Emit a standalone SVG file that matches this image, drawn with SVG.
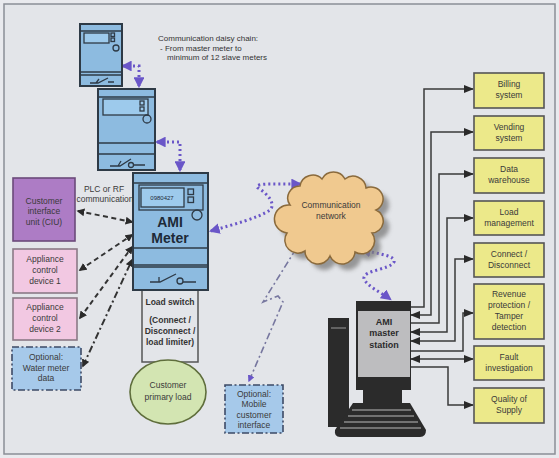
<svg xmlns="http://www.w3.org/2000/svg" width="559" height="458" viewBox="0 0 559 458">
<style>
  text { font-family: "Liberation Sans", Arial, sans-serif; text-anchor: middle; }
  .lbl { font-size: 8.5px; fill: #3a3a3a; }
  .note { font-size: 8px; fill: #333; text-anchor: start; }
  .meter { fill: #8dbbe0; stroke: #2e3a46; stroke-width: 2; }
  .mline { stroke: #2e3a46; stroke-width: 1.3; fill: none; }
  .disp { fill: #9dcaec; stroke: #2e3a46; stroke-width: 1.3; }
  .yel { fill: #ece98a; stroke: #555; stroke-width: 1.6; }
  .opt { fill: #a6c9ea; stroke: #3d4a66; stroke-width: 1.6; stroke-dasharray: 7 2.5 2 2.5; }
  .dots { fill: none; stroke: #6a56c8; stroke-width: 3; stroke-dasharray: 2 3; }
  .dash { fill: none; stroke: #333; stroke-width: 2; stroke-dasharray: 5 3.5; }
  .dashdot { fill: none; stroke: #333; stroke-width: 2; stroke-dasharray: 7 3 2 3; }
  .mobile { fill: none; stroke: #77779f; stroke-width: 1.6; stroke-dasharray: 7 3 2 3; }
  .wire { fill: none; stroke: #3a3a3a; stroke-width: 1.5; }
</style>
<defs>
  <marker id="pa" viewBox="0 0 10 10" refX="8" refY="5" markerWidth="3.6" markerHeight="3.6" orient="auto-start-reverse">
    <path d="M0,0 L10,5 L0,10 Z" fill="#6a56c8"/>
  </marker>
  <marker id="ka" viewBox="0 0 10 10" refX="8" refY="5" markerWidth="4" markerHeight="4" orient="auto-start-reverse">
    <path d="M0,0 L10,5 L0,10 Z" fill="#2a2a2a"/>
  </marker>
  <marker id="ma" viewBox="0 0 10 10" refX="8" refY="5" markerWidth="4.5" markerHeight="4.5" orient="auto">
    <path d="M0,0 L10,5 L0,10 Z" fill="#6a56c8"/>
  </marker>
  <marker id="wa" viewBox="0 0 10 10" refX="9" refY="5" markerWidth="7" markerHeight="7" orient="auto-start-reverse">
    <path d="M0,1 L10,5 L0,9 Z" fill="#2a2a2a"/>
  </marker>
  <filter id="soft" x="-20%" y="-20%" width="140%" height="140%">
    <feGaussianBlur stdDeviation="2"/>
  </filter>
  <path id="cloud" d="M290,205 A12,12 0 0 1 300,186 A13,13 0 0 1 322,179 A13,13 0 0 1 345,179 A13,13 0 0 1 366,188 A12,12 0 0 1 376,210 A12,12 0 0 1 372,233 A13,13 0 0 1 355,252 A13,13 0 0 1 330,256 A13,13 0 0 1 305,251 A13,13 0 0 1 287,233 A14,14 0 0 1 290,205 Z"/>
</defs>

<!-- page -->
<rect x="0" y="0" width="559" height="458" fill="#e9eaee"/>
<rect x="4" y="4" width="551" height="450" fill="#e3e5e9" stroke="#8a8e96" stroke-width="1.5"/>

<!-- connectors -->
<g id="connectors">
  <!-- meter daisy chain -->
  <path class="dots" d="M123,66 H139 V86" marker-start="url(#pa)" marker-end="url(#pa)"/>
  <path class="dots" d="M157,142 H180 V170" marker-start="url(#pa)" marker-end="url(#pa)"/>
  <!-- AMI meter to network -->
  <path class="dots" d="M211,231 C235,224 258,218 270,210 C276,204 268,194 258,188 C254,185 262,184 270,184 H300" marker-start="url(#pa)" marker-end="url(#pa)"/>
  <!-- network to master station -->
  <path class="dots" d="M362,250 C380,254 396,256 394,262 C390,270 362,270 364,279 C368,287 382,293 390,299" marker-start="url(#pa)" marker-end="url(#pa)"/>
  <!-- network to mobile interface -->
  <path class="mobile" d="M296,249 L263,302 L278,296 L283,302 L249,381" marker-end="url(#ma)"/>
  <!-- AMI meter to local devices -->
  <path class="dash" d="M78,211 L132,222" marker-start="url(#ka)" marker-end="url(#ka)"/>
  <path class="dash" d="M80,270 L132,235" marker-start="url(#ka)" marker-end="url(#ka)"/>
  <path class="dash" d="M80,318 L132,247" marker-start="url(#ka)" marker-end="url(#ka)"/>
  <path class="dashdot" d="M83,366 L132,260" marker-start="url(#ka)" marker-end="url(#ka)"/>
  <!-- master station to back-office systems -->
  <path class="wire" d="M411,307 H424 V89 H473" marker-end="url(#wa)"/>
  <path class="wire" d="M411,315 H431 V132 H473" marker-start="url(#wa)" marker-end="url(#wa)"/>
  <path class="wire" d="M411,323 H439 V174 H473" marker-end="url(#wa)"/>
  <path class="wire" d="M411,332 H447 V218 H473" marker-start="url(#wa)" marker-end="url(#wa)"/>
  <path class="wire" d="M411,341 H455 V259 H473" marker-start="url(#wa)" marker-end="url(#wa)"/>
  <path class="wire" d="M411,351 H463 V313 H473" marker-end="url(#wa)"/>
  <path class="wire" d="M411,359 H473" marker-start="url(#wa)" marker-end="url(#wa)"/>
  <path class="wire" d="M411,367 H448 V405 H473" marker-end="url(#wa)"/>
</g>

<!-- slave meter (top) -->
<g id="slave-meter-1">
  <rect class="meter" x="80" y="24" width="42" height="62"/>
  <line class="mline" x1="80" y1="31" x2="122" y2="31"/>
  <rect class="disp" x="84" y="33" width="25" height="10"/>
  <rect class="mline" x="111" y="33" width="3.5" height="3.5"/>
  <rect class="mline" x="111" y="38" width="3.5" height="3.5"/>
  <circle class="mline" cx="116" cy="48" r="3"/>
  <line class="mline" x1="80" y1="72" x2="122" y2="72"/>
  <line class="mline" x1="80" y1="75" x2="122" y2="75"/>
  <path class="mline" d="M90,83 H98 L108,78 M108,82 H114 M96,83 L99,79" stroke-width="1.8"/>
</g>

<!-- slave meter (middle) -->
<g id="slave-meter-2">
  <rect class="meter" x="98" y="89" width="57" height="81"/>
  <line class="mline" x1="98" y1="97" x2="155" y2="97"/>
  <rect class="disp" x="103" y="99" width="45" height="16"/>
  <rect class="mline" x="140" y="101" width="4" height="4"/>
  <rect class="mline" x="140" y="107" width="4" height="4"/>
  <circle class="mline" cx="147" cy="119" r="4"/>
  <line class="mline" x1="98" y1="143" x2="155" y2="143"/>
  <line class="mline" x1="98" y1="154" x2="155" y2="154"/>
  <path class="mline" d="M110,166 H120 L131,159 M133,165 H145 M118,166 L121,161" stroke-width="1.8"/>
  <circle class="mline" cx="131" cy="165" r="2.5"/>
</g>

<!-- load switch box (behind meter) -->
<g id="load-switch">
  <rect x="142" y="283" width="56" height="79" fill="none" stroke="#555" stroke-width="1.5"/>
  <text x="170" y="305" font-size="8.5" font-weight="bold" fill="#333">Load switch</text>
  <text x="170" y="323" font-size="8.5" font-weight="bold" fill="#333">(Connect /</text>
  <text x="170" y="334" font-size="8.5" font-weight="bold" fill="#333">Disconnect /</text>
  <text x="170" y="345" font-size="8.5" font-weight="bold" fill="#333">load limiter)</text>
</g>

<!-- AMI meter -->
<g id="ami-meter">
  <rect class="meter" x="133" y="173" width="75" height="117"/>
  <line class="mline" x1="133" y1="183" x2="208" y2="183"/>
  <rect class="mline" x="139" y="185" width="64" height="25"/>
  <rect class="disp" x="141" y="188" width="43" height="19"/>
  <text x="162" y="200" font-size="6" fill="#1d2a38">0980427</text>
  <rect class="mline" x="188" y="189" width="5.5" height="5.5"/>
  <rect class="mline" x="188" y="197" width="5.5" height="5.5"/>
  <circle class="mline" cx="197" cy="215" r="5"/>
  <text x="170" y="227" font-size="14" font-weight="bold" fill="#1d2a38">AMI</text>
  <text x="170" y="243" font-size="14" font-weight="bold" fill="#1d2a38">Meter</text>
  <line class="mline" x1="133" y1="248" x2="208" y2="248"/>
  <line class="mline" x1="133" y1="265" x2="208" y2="265"/>
  <line class="mline" x1="133" y1="267" x2="208" y2="267"/>
  <path class="mline" d="M150,282 H160 L176,274 M183,282 H196 M159,282 V277" stroke-width="2"/>
  <circle class="mline" cx="180" cy="281" r="3" stroke-width="1.6"/>
</g>

<!-- daisy chain note -->
<text class="note" x="158" y="41">Communication daisy chain:</text>
<text class="note" x="160" y="51">- From master meter to</text>
<text class="note" x="167" y="60">minimum of 12 slave meters</text>
<text class="lbl" x="104" y="192" fill="#333">PLC or RF</text>
<text class="lbl" x="105" y="202" fill="#333">communication</text>

<!-- local devices -->
<g id="ciu">
  <rect x="13" y="178" width="62" height="63" fill="#ad7cc5" stroke="#6b4a7a" stroke-width="1.6"/>
  <text class="lbl" x="44" y="204" fill="#3c2a48">Customer</text>
  <text class="lbl" x="44" y="214" fill="#3c2a48">interface</text>
  <text class="lbl" x="44" y="225" fill="#3c2a48">unit (CIU)</text>
</g>
<g id="appliance-1">
  <rect x="13" y="249" width="64" height="44" fill="#f2c8e2" stroke="#8a7a86" stroke-width="1.6"/>
  <text class="lbl" x="45" y="262">Appliance</text>
  <text class="lbl" x="45" y="273">control</text>
  <text class="lbl" x="45" y="284">device 1</text>
</g>
<g id="appliance-2">
  <rect x="13" y="298" width="64" height="42" fill="#f2c8e2" stroke="#8a7a86" stroke-width="1.6"/>
  <text class="lbl" x="45" y="310">Appliance</text>
  <text class="lbl" x="45" y="321">control</text>
  <text class="lbl" x="45" y="332">device 2</text>
</g>
<g id="water-meter">
  <rect class="opt" x="12" y="347" width="69" height="43"/>
  <text class="lbl" x="46" y="360">Optional:</text>
  <text class="lbl" x="46" y="371">Water meter</text>
  <text class="lbl" x="46" y="381">data</text>
</g>

<!-- customer load -->
<g id="customer-load">
  <ellipse cx="168" cy="392" rx="38" ry="32" fill="#d3e5b2" stroke="#5f6e3c" stroke-width="1.6"/>
  <text class="lbl" x="168" y="388">Customer</text>
  <text class="lbl" x="168" y="400">primary load</text>
</g>

<!-- mobile interface -->
<g id="mobile-interface">
  <rect class="opt" x="225" y="385" width="58" height="48"/>
  <text class="lbl" x="254" y="397">Optional:</text>
  <text class="lbl" x="254" y="407">Mobile</text>
  <text class="lbl" x="254" y="418">customer</text>
  <text class="lbl" x="254" y="428">interface</text>
</g>

<!-- communication network -->
<g id="network">
  <use href="#cloud" transform="translate(6,6)" fill="#7c7c7c" opacity="0.75" filter="url(#soft)"/>
  <use href="#cloud" fill="#f0c98f" stroke="#8a6a3c" stroke-width="1.5"/>
  <text class="lbl" x="331" y="208" fill="#4a3a22">Communication</text>
  <text class="lbl" x="331" y="219" fill="#4a3a22">network</text>
</g>

<!-- master station -->
<g id="master-station">
  <rect x="328" y="318" width="21" height="109" fill="#2b2b2b"/>
  <line x1="331" y1="328" x2="346" y2="328" stroke="#888" stroke-width="1.2"/>
  <rect x="363" y="389" width="39" height="15" fill="#2b2b2b"/>
  <path d="M353,403 H410 L426,430 Q426,437 420,437 H340 Q334,437 335,430 Z" fill="#2b2b2b"/>
  <path d="M352,410 H411 M348,416 H414 M344,422 H418 M340,428 H421" stroke="#8a8a8a" stroke-width="1.4" fill="none"/>
  <rect x="356" y="301" width="55" height="89" fill="#2b2b2b"/>
  <rect x="358" y="311" width="52" height="66" fill="#bdbdbf"/>
  <text x="384" y="325" font-size="9" font-weight="bold" fill="#2b2b2b">AMI</text>
  <text x="384" y="336" font-size="9" font-weight="bold" fill="#2b2b2b">master</text>
  <text x="384" y="348" font-size="9" font-weight="bold" fill="#2b2b2b">station</text>
</g>

<!-- back-office systems -->
<g id="billing">
  <rect class="yel" x="474" y="73" width="70" height="35"/>
  <text class="lbl" x="509" y="87">Billing</text>
  <text class="lbl" x="509" y="98">system</text>
</g>
<g id="vending">
  <rect class="yel" x="474" y="116" width="70" height="34"/>
  <text class="lbl" x="509" y="130">Vending</text>
  <text class="lbl" x="509" y="141">system</text>
</g>
<g id="data-warehouse">
  <rect class="yel" x="474" y="158" width="70" height="35"/>
  <text class="lbl" x="509" y="172">Data</text>
  <text class="lbl" x="509" y="183">warehouse</text>
</g>
<g id="load-management">
  <rect class="yel" x="474" y="201" width="70" height="34"/>
  <text class="lbl" x="509" y="215">Load</text>
  <text class="lbl" x="509" y="226">management</text>
</g>
<g id="connect-disconnect">
  <rect class="yel" x="474" y="243" width="70" height="34"/>
  <text class="lbl" x="509" y="257">Connect /</text>
  <text class="lbl" x="509" y="268">Disconnect</text>
</g>
<g id="revenue-protection">
  <rect class="yel" x="474" y="284" width="70" height="55"/>
  <text class="lbl" x="509" y="297">Revenue</text>
  <text class="lbl" x="509" y="308">protection /</text>
  <text class="lbl" x="509" y="319">Tamper</text>
  <text class="lbl" x="509" y="330">detection</text>
</g>
<g id="fault-investigation">
  <rect class="yel" x="474" y="346" width="70" height="34"/>
  <text class="lbl" x="509" y="360">Fault</text>
  <text class="lbl" x="509" y="371">investigation</text>
</g>
<g id="quality-of-supply">
  <rect class="yel" x="474" y="388" width="70" height="35"/>
  <text class="lbl" x="509" y="402">Quality of</text>
  <text class="lbl" x="509" y="413">Supply</text>
</g>
</svg>
